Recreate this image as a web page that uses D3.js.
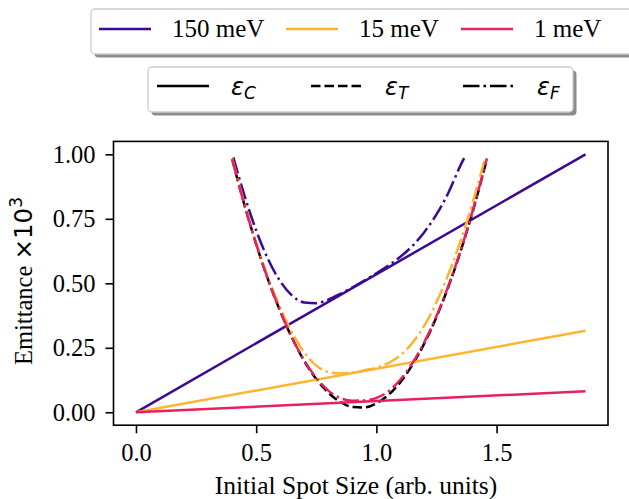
<!DOCTYPE html>
<html>
<head>
<meta charset="utf-8">
<script src="https://cdn.jsdelivr.net/npm/d3@7"></script>
<style>
  body { margin: 0; background: #fff; }
  svg { display: block; }
</style>
</head>
<body>
<div class="chart"></div>
<script>
// energies and their colours
const energies = ["150 meV", "15 meV", "1 meV"];
const colors = ["#3b0a94", "#fdb52f", "#e8205c"];

// eps_C: straight lines from 0 to the end of the scan
const cX = [0, 1.87];
const cVals = [
    [0, 1.0],
    [0, 0.316],
    [0, 0.0816]
];

// eps_T (black dashed)
const tX = [0.40, 0.45, 0.50, 0.55, 0.60, 0.65, 0.70, 0.75, 0.80, 0.85, 0.90, 0.95, 1.00, 1.05, 1.10, 1.15, 1.20, 1.25, 1.30, 1.35, 1.40, 1.46];
const tVals = [0.982, 0.808, 0.652, 0.513, 0.392, 0.287, 0.199, 0.129, 0.076, 0.040, 0.021, 0.019, 0.035, 0.067, 0.117, 0.184, 0.268, 0.369, 0.488, 0.623, 0.776, 0.982];

// eps_F (dash-dot), one per energy
const fX150 = [0.405, 0.45, 0.50, 0.55, 0.60, 0.65, 0.70, 0.75, 0.80, 0.85, 0.90, 0.95, 1.00, 1.05, 1.10, 1.15, 1.20, 1.25, 1.30, 1.35, 1.365];
const fVals150 = [0.988, 0.844, 0.705, 0.592, 0.508, 0.452, 0.426, 0.423, 0.437, 0.459, 0.484, 0.511, 0.539, 0.569, 0.603, 0.645, 0.699, 0.767, 0.852, 0.957, 0.985];
const fX15 = [0.40, 0.45, 0.50, 0.55, 0.60, 0.65, 0.70, 0.75, 0.80, 0.85, 0.90, 0.95, 1.00, 1.05, 1.10, 1.15, 1.20, 1.25, 1.30, 1.35, 1.40, 1.45];
const fVals15 = [0.984, 0.812, 0.657, 0.521, 0.405, 0.308, 0.232, 0.181, 0.156, 0.150, 0.154, 0.163, 0.173, 0.191, 0.221, 0.269, 0.337, 0.426, 0.536, 0.664, 0.812, 0.977];
const fX1 = [0.40, 0.45, 0.50, 0.55, 0.60, 0.65, 0.70, 0.75, 0.80, 0.85, 0.90, 0.95, 1.00, 1.05, 1.10, 1.15, 1.20, 1.25, 1.30, 1.35, 1.40, 1.46];
const fVals1 = [0.982, 0.808, 0.652, 0.513, 0.393, 0.288, 0.201, 0.133, 0.084, 0.055, 0.045, 0.046, 0.056, 0.081, 0.127, 0.191, 0.273, 0.373, 0.491, 0.626, 0.779, 0.984];

const xTicks = [0.0, 0.5, 1.0, 1.5];
const yTicks = [0.00, 0.25, 0.50, 0.75, 1.00];

const width = 629, height = 499;
const serif = "'Liberation Serif', 'Times New Roman', serif";
const sans = "'DejaVu Sans', sans-serif";
const lw = 2.5;
const dashT = "9.5,4";
const dashF = "16.5,4,2.5,4";

const svg = d3.select(".chart").append("svg")
    .attr("width", width)
    .attr("height", height);

const x = d3.scaleLinear().domain([-0.0935, 1.9635]).range([113.5, 608]);
const y = d3.scaleLinear().domain([-0.05, 1.05]).range([425.2, 141.4]);

const line = d3.line()
    .x(d => x(d[0]))
    .y(d => y(d[1]))
    .curve(d3.curveMonotoneX);

const plot = svg.append("g");

// eps_T
plot.append("path")
    .attr("d", line(tX.map((v, i) => [v, tVals[i]])))
    .attr("fill", "none")
    .attr("stroke", "black")
    .attr("stroke-width", lw)
    .attr("stroke-dasharray", dashT);

const fSeries = [
    fX150.map((v, i) => [v, fVals150[i]]),
    fX15.map((v, i) => [v, fVals15[i]]),
    fX1.map((v, i) => [v, fVals1[i]])
];

energies.forEach((e, k) => {
    plot.append("path")
        .attr("d", line(cX.map((v, i) => [v, cVals[k][i]])))
        .attr("fill", "none")
        .attr("stroke", colors[k])
        .attr("stroke-width", lw);
    plot.append("path")
        .attr("d", line(fSeries[k]))
        .attr("fill", "none")
        .attr("stroke", colors[k])
        .attr("stroke-width", lw)
        .attr("stroke-dasharray", dashF);
});

// axes
const xAxis = svg.append("g")
    .attr("transform", `translate(0,${y.range()[0]})`)
    .call(d3.axisBottom(x).tickValues(xTicks).tickFormat(d3.format(".1f")).tickSize(8).tickPadding(10))
    .call(g => g.select(".domain").remove());
const yAxis = svg.append("g")
    .attr("transform", `translate(${x.range()[0]},0)`)
    .call(d3.axisLeft(y).tickValues(yTicks).tickFormat(d3.format(".2f")).tickSize(8).tickPadding(10))
    .call(g => g.select(".domain").remove());

[xAxis, yAxis].forEach(a => {
    a.selectAll(".tick line").attr("stroke", "black").attr("stroke-width", 1.6);
    a.selectAll(".tick text")
        .attr("fill", "black")
        .style("font-family", serif)
        .style("font-size", "24.5px");
});

svg.append("rect")
    .attr("x", x.range()[0])
    .attr("y", y.range()[1])
    .attr("width", x.range()[1] - x.range()[0])
    .attr("height", y.range()[0] - y.range()[1])
    .attr("fill", "none")
    .attr("stroke", "black")
    .attr("stroke-width", 1.6);

svg.append("text")
    .attr("x", 356)
    .attr("y", 494)
    .attr("text-anchor", "middle")
    .style("font-family", serif)
    .style("font-size", "25.5px")
    .text("Initial Spot Size (arb. units)");

const yl = svg.append("text")
    .attr("transform", `translate(32,281) rotate(-90)`)
    .attr("text-anchor", "middle")
    .style("font-size", "24.5px");
yl.append("tspan").style("font-family", serif).text("Emittance ");
yl.append("tspan").style("font-family", sans).text("\u00d710");
yl.append("tspan").style("font-family", sans).style("font-size", "17px").attr("dy", -10).text("3");

// legend frames
function frame(x0, y0, w, h) {
    svg.append("rect")
        .attr("x", x0 + 3.5).attr("y", y0 + 3.5)
        .attr("width", w).attr("height", h)
        .attr("rx", 4)
        .attr("fill", "#8c8c8c");
    svg.append("rect")
        .attr("x", x0).attr("y", y0)
        .attr("width", w).attr("height", h)
        .attr("rx", 4)
        .attr("fill", "white")
        .attr("stroke", "#cccccc")
        .attr("stroke-width", 1.3);
}

frame(91, 9, 545, 45);
const leg1X = [99, 286, 461];
energies.forEach((e, k) => {
    svg.append("line")
        .attr("x1", leg1X[k]).attr("x2", leg1X[k] + 52)
        .attr("y1", 29).attr("y2", 29)
        .attr("stroke", colors[k])
        .attr("stroke-width", lw);
    svg.append("text")
        .attr("x", leg1X[k] + 73)
        .attr("y", 37)
        .style("font-family", serif)
        .style("font-size", "25px")
        .text(e);
});

frame(148, 67, 425, 45);
const styleNames = ["C", "T", "F"];
const styleDash = [null, dashT, dashF];
const leg2X = [157, 311, 463];
styleNames.forEach((s, k) => {
    svg.append("line")
        .attr("x1", leg2X[k]).attr("x2", leg2X[k] + 52)
        .attr("y1", 86).attr("y2", 86)
        .attr("stroke", "black")
        .attr("stroke-width", lw)
        .attr("stroke-dasharray", styleDash[k]);
    const t = svg.append("text")
        .attr("x", leg2X[k] + 74)
        .attr("y", 95)
        .style("font-family", sans)
        .style("font-style", "italic")
        .style("font-size", "24px");
    t.append("tspan").text("\u03b5");
    t.append("tspan").attr("dy", 4).style("font-size", "17px").text(s);
});
</script>
</body>
</html>
